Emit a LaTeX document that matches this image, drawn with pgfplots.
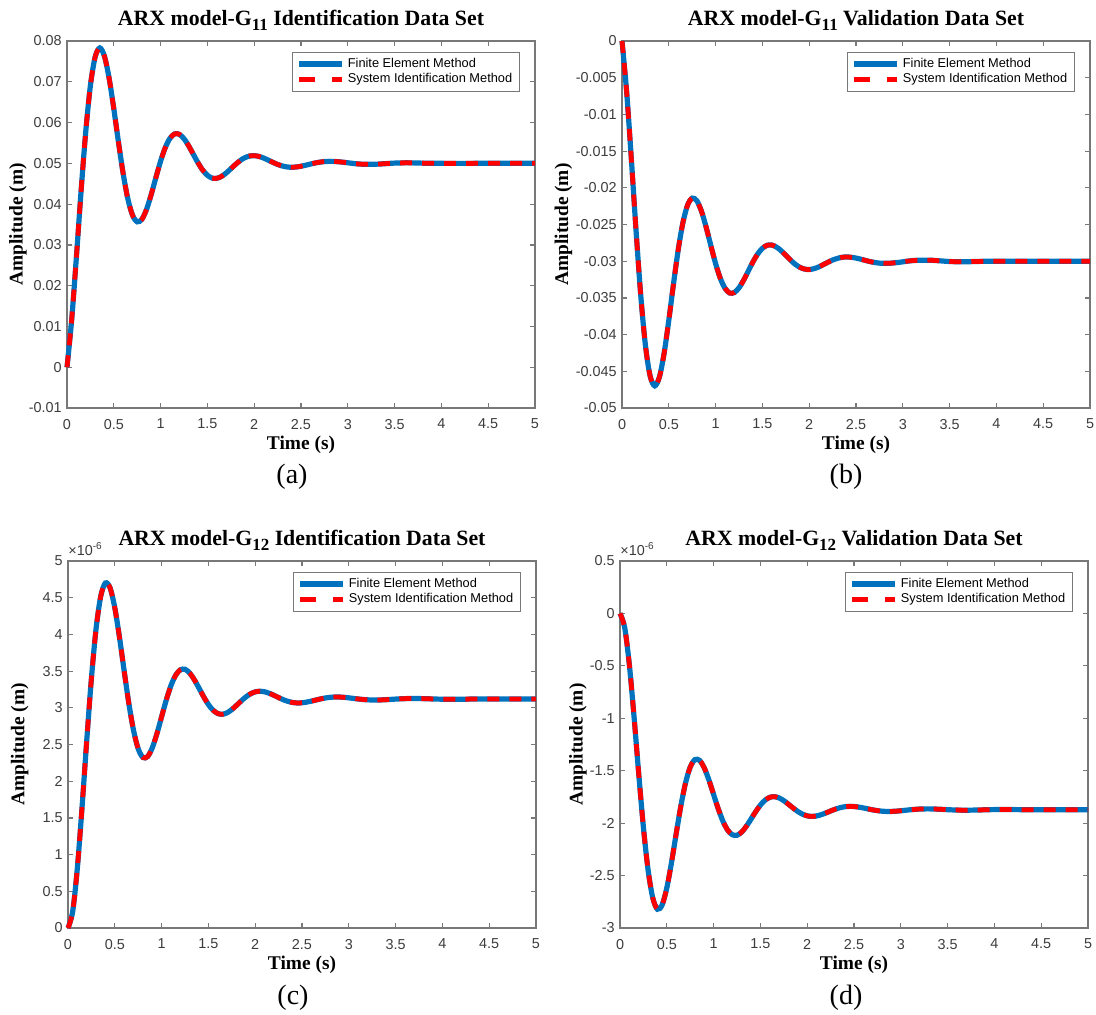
\documentclass[border=0pt]{standalone}
\usepackage{fontspec}
\setmainfont{Liberation Sans}
\newfontfamily\tnr{Liberation Serif}
\usepackage{pgfplots}
\usepackage{pgfplotstable}
\pgfplotsset{compat=1.18}
\definecolor{mblue}{RGB}{0,114,189}
\definecolor{axgray}{RGB}{120,120,120}
\definecolor{tickgray}{RGB}{60,60,60}

\pgfplotstableread{
t y
0 0
0.05 0.01165
0.10 0.02689
0.15 0.04304
0.20 0.05770
0.25 0.06906
0.30 0.07603
0.35 0.07830
0.40 0.07627
0.45 0.07088
0.50 0.06340
0.55 0.05518
0.60 0.04749
0.65 0.04131
0.70 0.03729
0.75 0.03566
0.80 0.03628
0.85 0.03872
0.90 0.04237
0.95 0.04652
1.00 0.05053
1.05 0.05386
1.10 0.05614
1.15 0.05722
1.20 0.05712
1.25 0.05604
1.30 0.05429
1.35 0.05220
1.40 0.05012
1.45 0.04834
1.50 0.04707
1.55 0.04639
1.60 0.04633
1.65 0.04678
1.70 0.04762
1.75 0.04866
1.80 0.04973
1.85 0.05068
1.90 0.05138
1.95 0.05179
2.00 0.05188
2.05 0.05170
2.10 0.05131
2.15 0.05079
2.20 0.05024
2.25 0.04974
2.30 0.04936
2.35 0.04912
2.40 0.04904
2.45 0.04911
2.50 0.04929
2.55 0.04954
2.60 0.04982
2.65 0.05008
2.70 0.05029
2.75 0.05043
2.80 0.05049
2.85 0.05047
2.90 0.05039
2.95 0.05028
3.00 0.05014
3.10 0.04987
3.20 0.04976
3.30 0.04979
3.40 0.04992
3.50 0.05006
3.60 0.05012
3.70 0.05011
3.80 0.05005
4.00 0.05000
4.50 0.05000
5.00 0.05000
}\dataA

\pgfplotstableread{
t y
0 0
0.05 -0.00699
0.10 -0.01613
0.15 -0.02582
0.20 -0.03462
0.25 -0.04144
0.30 -0.04562
0.35 -0.04698
0.40 -0.04576
0.45 -0.04253
0.50 -0.03804
0.55 -0.03311
0.60 -0.02849
0.65 -0.02479
0.70 -0.02237
0.75 -0.02140
0.80 -0.02177
0.85 -0.02323
0.90 -0.02542
0.95 -0.02791
1.00 -0.03032
1.05 -0.03232
1.10 -0.03368
1.15 -0.03433
1.20 -0.03427
1.25 -0.03362
1.30 -0.03257
1.35 -0.03132
1.40 -0.03007
1.45 -0.02900
1.50 -0.02824
1.55 -0.02783
1.60 -0.02780
1.65 -0.02807
1.70 -0.02857
1.75 -0.02920
1.80 -0.02984
1.85 -0.03041
1.90 -0.03083
1.95 -0.03107
2.00 -0.03113
2.05 -0.03102
2.10 -0.03079
2.15 -0.03047
2.20 -0.03014
2.25 -0.02984
2.30 -0.02962
2.35 -0.02947
2.40 -0.02942
2.45 -0.02947
2.50 -0.02957
2.55 -0.02972
2.60 -0.02989
2.65 -0.03005
2.70 -0.03017
2.75 -0.03026
2.80 -0.03029
2.85 -0.03028
2.90 -0.03023
2.95 -0.03017
3.00 -0.03008
3.10 -0.02992
3.20 -0.02986
3.30 -0.02987
3.40 -0.02995
3.50 -0.03004
3.60 -0.03007
3.70 -0.03007
3.80 -0.03003
4.00 -0.03000
4.50 -0.03000
5.00 -0.03000
}\dataB

\pgfplotstableread{
t y
0 0
0.05 0.2237
0.10 0.8182
0.15 1.6438
0.20 2.5501
0.25 3.3981
0.30 4.0784
0.35 4.5212
0.40 4.7009
0.45 4.6325
0.50 4.3631
0.55 3.9611
0.60 3.5028
0.65 3.0606
0.70 2.6940
0.75 2.4427
0.80 2.3242
0.85 2.3350
0.90 2.4537
0.95 2.6475
1.00 2.8778
1.05 3.1069
1.10 3.3030
1.15 3.4437
1.20 3.5178
1.25 3.5250
1.30 3.4746
1.35 3.3823
1.40 3.2674
1.45 3.1494
1.50 3.0452
1.55 2.9673
1.60 2.9226
1.65 2.9123
1.70 2.9326
1.75 2.9759
1.80 3.0328
1.85 3.0932
1.90 3.1482
1.95 3.1909
2.00 3.2172
2.05 3.2259
2.10 3.2185
2.15 3.1984
2.20 3.1705
2.25 3.1397
2.30 3.1109
2.35 3.0877
2.40 3.0726
2.45 3.0664
2.50 3.0686
2.55 3.0782
2.60 3.0913
2.65 3.1068
2.70 3.1218
2.75 3.1343
2.80 3.1429
2.85 3.1470
2.90 3.1467
2.95 3.1427
3.00 3.1361
3.10 3.1205
3.20 3.1091
3.30 3.1063
3.40 3.1111
3.50 3.1190
3.60 3.1252
3.70 3.1270
3.80 3.1249
3.90 3.1209
4.00 3.1176
4.20 3.1173
4.40 3.1211
4.60 3.1214
4.80 3.1195
5.00 3.1200
}\dataC

\pgfplotstableread{
t y
0 0
0.05 -0.1342
0.10 -0.4909
0.15 -0.9863
0.20 -1.5301
0.25 -2.0389
0.30 -2.4470
0.35 -2.7127
0.40 -2.8205
0.45 -2.7795
0.50 -2.6179
0.55 -2.3767
0.60 -2.1017
0.65 -1.8364
0.70 -1.6164
0.75 -1.4656
0.80 -1.3945
0.85 -1.4010
0.90 -1.4722
0.95 -1.5885
1.00 -1.7267
1.05 -1.8641
1.10 -1.9818
1.15 -2.0662
1.20 -2.1107
1.25 -2.1150
1.30 -2.0848
1.35 -2.0294
1.40 -1.9604
1.45 -1.8896
1.50 -1.8271
1.55 -1.7804
1.60 -1.7536
1.65 -1.7474
1.70 -1.7596
1.75 -1.7855
1.80 -1.8197
1.85 -1.8559
1.90 -1.8889
1.95 -1.9145
2.00 -1.9303
2.05 -1.9355
2.10 -1.9311
2.15 -1.9190
2.20 -1.9023
2.25 -1.8838
2.30 -1.8665
2.35 -1.8526
2.40 -1.8436
2.45 -1.8398
2.50 -1.8412
2.55 -1.8469
2.60 -1.8548
2.65 -1.8641
2.70 -1.8731
2.75 -1.8806
2.80 -1.8857
2.85 -1.8882
2.90 -1.8880
2.95 -1.8856
3.00 -1.8817
3.10 -1.8723
3.20 -1.8655
3.30 -1.8638
3.40 -1.8667
3.50 -1.8714
3.60 -1.8751
3.70 -1.8762
3.80 -1.8749
3.90 -1.8725
4.00 -1.8706
4.20 -1.8704
4.40 -1.8727
4.60 -1.8728
4.80 -1.8717
5.00 -1.8720
}\dataD

\newcommand{\ttl}[2]{ARX model-G\raisebox{-0.5ex}{\fontsize{8.5}{9}\selectfont #1} #2 Data Set}

\pgfplotsset{
  panel/.style={
    scale only axis, width=234pt, height=183.5pt,
    xmin=0, xmax=5,
    scaled x ticks=false, scaled y ticks=false,
    xtick={0,0.5,1,1.5,2,2.5,3,3.5,4,4.5,5},
    xticklabels={0,0.5,1,1.5,2,2.5,3,3.5,4,4.5,5},
    axis line style={axgray, line width=0.7pt},
    every tick/.style={axgray, line width=0.6pt},
    major tick length=2.6pt,
    tick align=inside,
    ticklabel style={font=\fontsize{7.2}{8}\selectfont, text=tickgray},
    xticklabel style={inner sep=0pt, yshift=-5.3pt},
    yticklabel style={inner sep=0pt, xshift=-2.5pt},
    clip=false,
    every axis title shift=0pt,
    title style={font=\tnr\bfseries\fontsize{10.9}{12}\selectfont, anchor=base, at={(axis description cs:0.5,1)}, yshift=8pt},
    xlabel style={font=\tnr\bfseries\fontsize{9.7}{11}\selectfont, at={(axis description cs:0.5,0)}, anchor=center, yshift=-18.5pt},
    ylabel style={font=\tnr\bfseries\fontsize{9.7}{11}\selectfont, anchor=center},
    xlabel={Time (s)}, ylabel={Amplitude (m)},
    legend style={font=\fontsize{6.4}{7.5}\selectfont, draw=axgray, line width=0.6pt,
      at={(axis description cs:1,1)}, anchor=north east, xshift=-7.5pt, yshift=-5.5pt,
      inner xsep=2pt, inner ysep=1pt, row sep=-1.4pt, nodes={inner sep=1.6pt}},
    legend cell align=left,
    legend image code/.code={\draw[#1] (0pt,0pt) -- (21.5pt,0pt);},
  },
  femline/.style={mblue, line width=2.6pt, smooth},
  sidline/.style={red, line width=2.4pt, smooth, dash pattern=on 6pt off 5pt},
  sidlegend/.style={legend image code/.code={\draw[red, line width=2.4pt, dash pattern=on 8pt off 8.5pt] (0pt,0pt) -- (21.5pt,0pt);}},
}

\begin{document}
\begin{tikzpicture}
\useasboundingbox (0pt,0pt) rectangle (548pt,-507pt);

% (a)
\begin{axis}[panel, at={(33.5pt,-204pt)}, anchor=south west,
  ymin=-0.01, ymax=0.08,
  ytick={-0.01,0,0.01,0.02,0.03,0.04,0.05,0.06,0.07,0.08},
  yticklabels={-0.01,0,0.01,0.02,0.03,0.04,0.05,0.06,0.07,0.08},
  ylabel style={at={(axis description cs:-0.105,0.5)}},
  title={\ttl{11}{Identification}}]
\addplot[femline] table[x=t,y=y] {\dataA};
\addlegendentry{Finite Element Method}
\addplot[sidline, sidlegend] table[x=t,y=y] {\dataA};
\addlegendentry{System Identification Method}
\end{axis}

% (b)
\begin{axis}[panel, at={(311pt,-204pt)}, anchor=south west,
  ymin=-0.05, ymax=0,
  ytick={-0.05,-0.045,-0.04,-0.035,-0.03,-0.025,-0.02,-0.015,-0.01,-0.005,0},
  yticklabels={-0.05,-0.045,-0.04,-0.035,-0.03,-0.025,-0.02,-0.015,-0.01,-0.005,0},
  ylabel style={at={(axis description cs:-0.125,0.5)}},
  title={\ttl{11}{Validation}}]
\addplot[femline] table[x=t,y=y] {\dataB};
\addlegendentry{Finite Element Method}
\addplot[sidline, sidlegend] table[x=t,y=y] {\dataB};
\addlegendentry{System Identification Method}
\end{axis}

% (c)
\begin{axis}[panel, at={(34pt,-464pt)}, anchor=south west,
  ymin=0, ymax=5,
  ytick={0,0.5,1,1.5,2,2.5,3,3.5,4,4.5,5},
  yticklabels={0,0.5,1,1.5,2,2.5,3,3.5,4,4.5,5},
  ylabel style={at={(axis description cs:-0.103,0.5)}},
  title={\ttl{12}{Identification}}]
\addplot[femline] table[x=t,y=y] {\dataC};
\addlegendentry{Finite Element Method}
\addplot[sidline, sidlegend] table[x=t,y=y] {\dataC};
\addlegendentry{System Identification Method}
\node[anchor=base west, inner sep=0pt, text=tickgray, font=\fontsize{7.2}{8}\selectfont] at (axis description cs:0,1) [yshift=2.8pt] {×10\textsuperscript{-6}};
\end{axis}

% (d)
\begin{axis}[panel, at={(310pt,-464pt)}, anchor=south west,
  ymin=-3, ymax=0.5,
  ytick={-3,-2.5,-2,-1.5,-1,-0.5,0,0.5},
  yticklabels={-3,-2.5,-2,-1.5,-1,-0.5,0,0.5},
  ylabel style={at={(axis description cs:-0.09,0.5)}},
  title={\ttl{12}{Validation}}]
\addplot[femline] table[x=t,y=y] {\dataD};
\addlegendentry{Finite Element Method}
\addplot[sidline, sidlegend] table[x=t,y=y] {\dataD};
\addlegendentry{System Identification Method}
\node[anchor=base west, inner sep=0pt, text=tickgray, font=\fontsize{7.2}{8}\selectfont] at (axis description cs:0,1) [yshift=2.8pt] {×10\textsuperscript{-6}};
\end{axis}

\node[font=\tnr\fontsize{14}{16}\selectfont] at (146pt,-238.5pt) {(a)};
\node[font=\tnr\fontsize{14}{16}\selectfont] at (423pt,-238.5pt) {(b)};
\node[font=\tnr\fontsize{14}{16}\selectfont] at (146.5pt,-499pt) {(c)};
\node[font=\tnr\fontsize{14}{16}\selectfont] at (423pt,-499pt) {(d)};
\end{tikzpicture}
\end{document}
